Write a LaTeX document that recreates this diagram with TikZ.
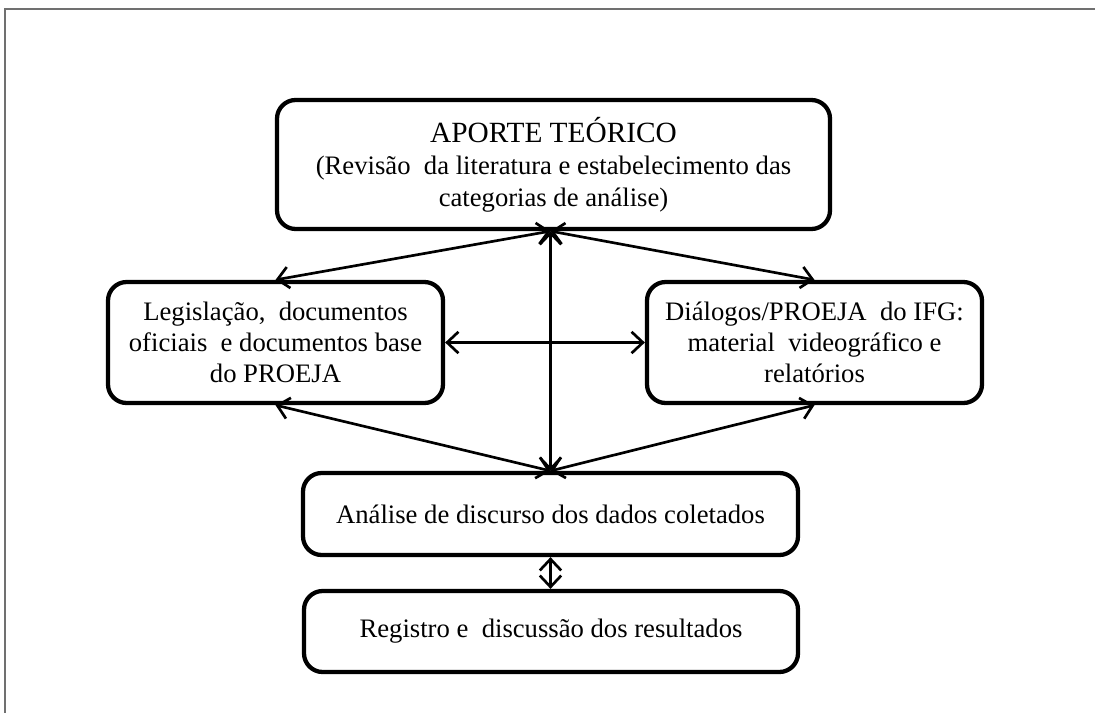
\documentclass[tikz,border=0pt]{standalone}
\usepackage{fontspec}
\setmainfont{Liberation Serif}
\usetikzlibrary{arrows.meta}
\definecolor{framegray}{HTML}{707070}
\begin{document}
\begin{tikzpicture}[x=0.75pt,y=-0.75pt,
  box/.style={draw=black, line width=3.2pt, rounded corners=14pt, inner sep=0pt,
    align=center, font=\fontsize{20}{23.5}\selectfont},
  arr/.style={line width=2pt, {Straight Barb[length=8.5pt,width=16pt]}-{Straight Barb[length=8.5pt,width=16pt]}}]
\useasboundingbox (0,0) rectangle (1095,713);
\draw[framegray, line width=2.2pt] (1095,9) -- (5,9) -- (5,713);

\node[box, minimum width=414.75pt, minimum height=96.75pt] (top) at (553.5,164.5)
  {{\fontsize{22}{26}\selectfont APORTE TEÓRICO}\\[1pt]
   (Revisão\ \ da literatura e estabelecimento das\\
   categorias de análise)};
\node[box, minimum width=251.25pt, minimum height=90.75pt] (L) at (275.5,342.5)
  {Legislação,\ \ documentos\\ oficiais\ \ e documentos base\\ do PROEJA};
\node[box, minimum width=251.25pt, minimum height=90.75pt] (R) at (814.5,342.5)
  {Diálogos/PROEJA\ \ do IFG:\\ material\ \ videográfico e\\ relatórios};
\node[box, minimum width=371.25pt, minimum height=61.5pt] (an) at (550.5,514)
  {Análise de discurso dos dados coletados};
\node[box, minimum width=370.5pt, minimum height=60.75pt] (reg) at (551,631.5)
  {Registro e\ \ discussão dos resultados};

\coordinate (hub) at (top.south -| an.north);
\draw[arr] (hub) -- (L.north);
\draw[arr] (hub) -- (R.north);
\draw[arr] (hub) -- (an.north);
\draw[arr] (L.south) -- (an.north);
\draw[arr] (R.south) -- (an.north);
\draw[arr] (L.east) -- (R.west);
\draw[arr] (an.south) -- (an.south |- reg.north);
\end{tikzpicture}
\end{document}
